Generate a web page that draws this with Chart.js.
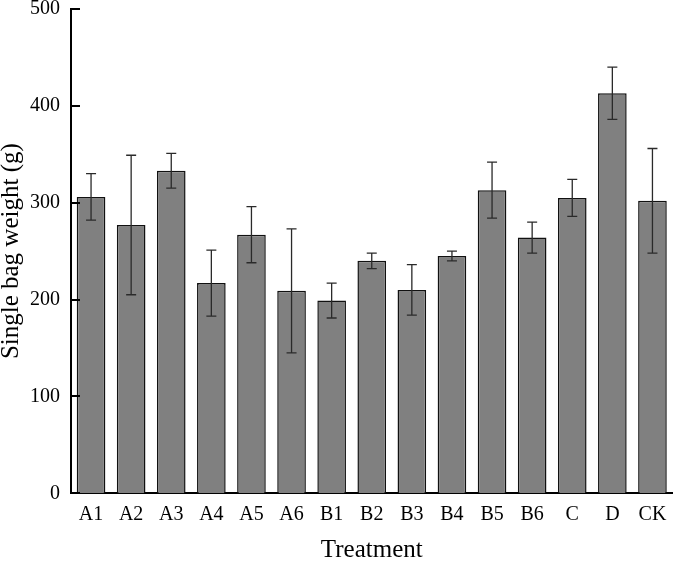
<!DOCTYPE html>
<html>
<head>
<meta charset="utf-8">
<script src="https://cdn.jsdelivr.net/npm/chart.js@4.4.1/dist/chart.umd.min.js"></script>
<style>
    body { margin: 0; background: #fff; }
    #wrap { width: 675px; height: 561px; }
</style>
</head>
<body>
<div id="wrap"><canvas id="weightChart" width="675" height="561"></canvas></div>
<script>
const treatments = ['A1', 'A2', 'A3', 'A4', 'A5', 'A6', 'B1', 'B2', 'B3', 'B4', 'B5', 'B6', 'C', 'D', 'CK'];
const bagWeight = [306, 277, 333, 217, 267, 209, 199, 240, 210, 245, 313, 264, 305, 413, 302];
const bagWeightErr = [24, 72, 18, 34, 29, 64, 18, 8, 26, 5, 29, 16, 19, 27, 54];
const yTicks = [0, 100, 200, 300, 400, 500];

const serif = "'Liberation Serif', 'Times New Roman', serif";

// error bars + inward tick marks on the y axis
const errorBarPlugin = {
    id: 'errorBars',
    afterDatasetsDraw(chart) {
        const ctx = chart.ctx;
        const yScale = chart.scales.y;
        const meta = chart.getDatasetMeta(0);
        ctx.save();
        ctx.strokeStyle = '#2a2a2a';
        ctx.lineWidth = 1.3;
        meta.data.forEach((bar, i) => {
            const hi = yScale.getPixelForValue(bagWeight[i] + bagWeightErr[i]);
            const lo = yScale.getPixelForValue(bagWeight[i] - bagWeightErr[i]);
            ctx.beginPath();
            ctx.moveTo(bar.x, hi);
            ctx.lineTo(bar.x, lo);
            ctx.moveTo(bar.x - 5, hi);
            ctx.lineTo(bar.x + 5, hi);
            ctx.moveTo(bar.x - 5, lo);
            ctx.lineTo(bar.x + 5, lo);
            ctx.stroke();
        });
        ctx.restore();
    },
    afterDraw(chart) {
        const ctx = chart.ctx;
        const yScale = chart.scales.y;
        const left = chart.chartArea.left;
        ctx.save();
        ctx.strokeStyle = '#000';
        ctx.lineWidth = 2;
        yTicks.forEach(v => {
            const y = Math.round(yScale.getPixelForValue(v));
            ctx.beginPath();
            ctx.moveTo(left, y);
            ctx.lineTo(left + 9, y);
            ctx.stroke();
        });
        ctx.restore();
    }
};

document.addEventListener("DOMContentLoaded", () => {
    const ctx = document.getElementById("weightChart").getContext("2d");

    new Chart(ctx, {
        type: 'bar',
        data: {
            labels: treatments,
            datasets: [{
                label: 'Single bag weight (g)',
                data: bagWeight,
                backgroundColor: '#808080',
                borderColor: '#111',
                borderWidth: 1.5,
                barPercentage: 0.714,
                categoryPercentage: 1.0
            }]
        },
        options: {
            responsive: false,
            animation: false,
            layout: {
                padding: { top: 9, left: 0, right: 2.5, bottom: 0 }
            },
            plugins: {
                legend: { display: false },
                tooltip: { enabled: false }
            },
            scales: {
                x: {
                    grid: { display: false, drawTicks: false },
                    border: { display: true, color: '#000', width: 2 },
                    ticks: {
                        color: '#000',
                        padding: 9,
                        font: { family: serif, size: 20 }
                    },
                    title: {
                        display: true,
                        text: 'Treatment',
                        color: '#000',
                        padding: { top: 0, bottom: -1.5 },
                        font: { family: serif, size: 25, lineHeight: 1 }
                    },
                    afterFit: (scale) => {
                        scale.height = 561 - 493.3;
                        scale.paddingLeft = 0;
                        scale.paddingRight = 0;
                    }
                },
                y: {
                    min: 0,
                    max: 500,
                    afterBuildTicks: (scale) => {
                        scale.ticks = yTicks.map(v => ({ value: v }));
                    },
                    grid: { display: false, drawTicks: false },
                    border: { display: true, color: '#000', width: 2 },
                    ticks: {
                        color: '#000',
                        padding: 11,
                        font: { family: serif, size: 20, lineHeight: 0.9 }
                    },
                    title: {
                        display: true,
                        text: 'Single bag weight (g)',
                        color: '#000',
                        padding: { top: -1.5, bottom: 0 },
                        font: { family: serif, size: 25, lineHeight: 1 }
                    },
                    afterFit: (scale) => {
                        scale.width = 71;
                        scale.paddingTop = 0;
                        scale.paddingBottom = 0;
                    }
                }
            }
        },
        plugins: [errorBarPlugin]
    });
});
</script>
</body>
</html>
